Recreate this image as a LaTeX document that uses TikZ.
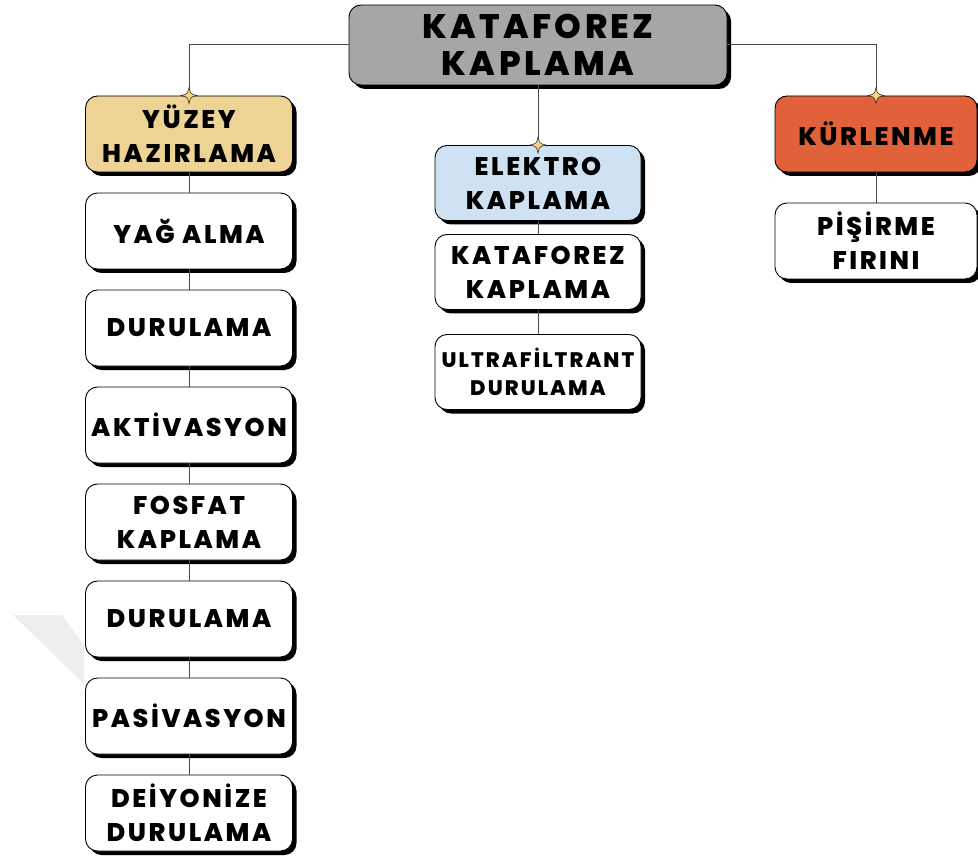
\documentclass[tikz,border=0pt]{standalone}
\usepackage{fontspec}
\setmainfont{Poppins}
\newfontfamily\boxfont{Poppins}[LetterSpace=10, UprightFont={* ExtraBold}, BoldFont={* Black}]
\usetikzlibrary{shadows}
\definecolor{titlegray}{HTML}{A6A6A6}
\definecolor{gold}{HTML}{EDD394}
\definecolor{lightblue}{HTML}{CFE2F3}
\definecolor{orangered}{HTML}{E1613A}
\definecolor{starfill}{HTML}{F7D57E}
\definecolor{linec}{HTML}{4A4A4A}
\definecolor{wm}{HTML}{EEEEEE}
\tikzset{
  box/.style={draw=black, line width=0.9pt, rounded corners=12pt, fill=white,
    align=center, inner sep=0pt,
    font=\boxfont\fontsize{25.5}{34}\selectfont,
    drop shadow={shadow xshift=4pt, shadow yshift=-4pt, opacity=1, fill=black}},
  leftbox/.style={box, minimum width=207pt, minimum height=76pt},
  midbox/.style={box, minimum width=206pt, minimum height=75pt},
  rightbox/.style={box, minimum width=202pt, minimum height=76pt},
  conn/.style={draw=linec, line width=1pt},
  sparkle/.style={fill=starfill, draw=black!80, line width=0.6pt}
}
\newcommand\sparkleat[1]{%
  \begin{scope}[shift={(#1)}]
    \path[sparkle] (0,-8) .. controls (1.5,-1.5) .. (8,0) .. controls (1.5,1.5) .. (0,8)
      .. controls (-1.5,1.5) .. (-8,0) .. controls (-1.5,-1.5) .. (0,-8) -- cycle;
  \end{scope}}
\begin{document}
\begin{tikzpicture}[x=1pt,y=-1pt]
\useasboundingbox (0,0) rectangle (978,861);
% faint watermark
\fill[wm] (13,615) -- (62,615) -- (84,645) -- (84,684) -- cycle;

% nodes
\node[box, fill=titlegray, minimum width=378pt, minimum height=80pt,
  font=\boxfont\fontsize{34}{37}\selectfont] (top) at (538,45) {KATAFOREZ\\KAPLAMA};

\node[leftbox, fill=gold] (yuzey) at (189,134) {YÜZEY\\HAZIRLAMA};
\node[leftbox] (yag) at (189,231) {YAĞ ALMA};
\node[leftbox] (dur1) at (189,328) {DURULAMA};
\node[leftbox] (akt) at (189,425) {AKTİVASYON};
\node[leftbox] (fos) at (189,522) {FOSFAT\\KAPLAMA};
\node[leftbox] (dur2) at (189,619) {DURULAMA};
\node[leftbox] (pas) at (189,716) {PASİVASYON};
\node[leftbox] (dei) at (189,813) {DEİYONİZE\\DURULAMA};

\node[midbox, fill=lightblue] (elk) at (538,183) {ELEKTRO\\KAPLAMA};
\node[midbox] (kat) at (538,272) {KATAFOREZ\\KAPLAMA};
\node[midbox, font=\boxfont\fontsize{21}{28}\selectfont] (ult) at (538,372) {ULTRAFİLTRANT\\DURULAMA};

\node[rightbox, fill=orangered] (kur) at (876,134) {KÜRLENME};
\node[rightbox] (pis) at (876,241) {PİŞİRME\\FIRINI};

% connectors
\path[conn] (top.west) -| (yuzey.north);
\path[conn] (top.east) -| (kur.north);
\path[conn] (top.south) -- (elk.north);
\path[conn] (yuzey.south) -- (yag.north);
\path[conn] (yag.south) -- (dur1.north);
\path[conn] (dur1.south) -- (akt.north);
\path[conn] (akt.south) -- (fos.north);
\path[conn] (fos.south) -- (dur2.north);
\path[conn] (dur2.south) -- (pas.north);
\path[conn] (pas.south) -- (dei.north);
\path[conn] (elk.south) -- (kat.north);
\path[conn] (kat.south) -- (ult.north);
\path[conn] (kur.south) -- (pis.north);

\sparkleat{yuzey.north}
\sparkleat{elk.north}
\sparkleat{kur.north}
\end{tikzpicture}
\end{document}
